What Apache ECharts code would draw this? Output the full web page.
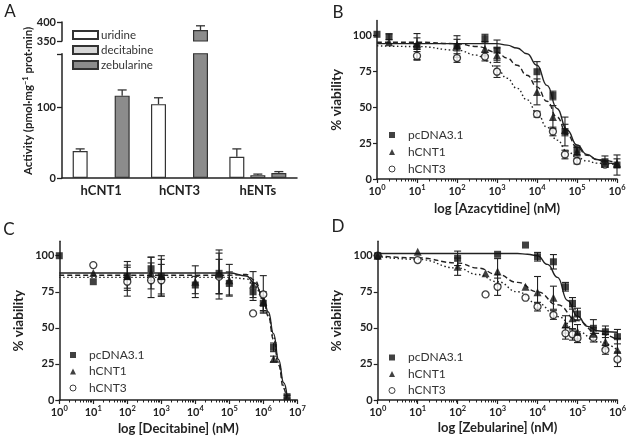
<!DOCTYPE html>
<html><head><meta charset="utf-8">
<script src="https://cdn.jsdelivr.net/npm/echarts@6/dist/echarts.min.js"></script>
<style>html,body{margin:0;padding:0;background:#fff}#c{width:629px;height:442px}</style>
</head><body><div id="c"></div>
<script>
// ---------- Panel A ----------
const aCategories = ['hCNT1', 'hCNT3', 'hENTs'];
const aUridine = [38, 104, 30];
const aUridineErr = [3, 9, 11];
const aDecitabine = [null, null, 4];
const aDecitabineErr = [null, null, 1.5];
const aZebularine = [116, 379, 7];
const aZebularineErr = [8, 11, 2];
const aLowerTicks = [0, 100, 175];
const aUpperTicks = [350, 400];

// ---------- Panel B (Azacytidine) ----------
const bConc = [1, 2, 10, 100, 500, 1000, 10000, 25000, 50000, 100000, 500000, 1000000];
const bPcdna = [100.5, 98.8, 92, 92, 97.5, 89.5, 74.5, 58, 33, 20, 12, 9.7];
const bPcdnaErr = [0, 2, 9, 7.5, 3, 7, 7, 3, 10, 3, 4, 7];
const bHcnt1 = [null, 95, 94, 93, 90.5, 86, 60.5, 43, 34, 19, 11, 11];
const bHcnt1Err = [0, 0, 4, 4, 5, 5, 9, 8, 4, 3, 2, 3];
const bHcnt3 = [null, null, 85.5, 84, 85, 74.5, 45, 33, 17, 12.5, 10, null];
const bHcnt3Err = [0, 0, 3, 3, 3, 4, 2, 3, 3, 2, 2, 0];
const bCurvePcdna = [[1, 94], [10, 94], [100, 94], [1000, 94], [1778, 93], [3162, 91], [5623, 87], [10000, 79], [17783, 65], [31623, 49], [56234, 34], [100000, 23.6], [177828, 17], [316228, 13.5], [562341, 11], [1000000, 10]];
const bCurveHcnt1 = [[1, 95], [10, 95], [100, 94], [316, 92], [1000, 88], [1778, 84], [3162, 79], [5623, 72], [10000, 64], [17783, 54], [31623, 43], [56234, 31], [100000, 22], [177828, 16.5], [316228, 13.5], [1000000, 11]];
const bCurveHcnt3 = [[1, 92.5], [10, 92], [100, 89.5], [316, 86], [562, 82], [1000, 76.5], [1778, 70], [3162, 63], [5623, 55], [10000, 46], [17783, 36], [31623, 27], [56234, 19.5], [100000, 15], [177828, 12.5], [316228, 11], [1000000, 10]];

// ---------- Panel C (Decitabine) ----------
const cConc = [1, 10, 100, 500, 1000, 10000, 50000, 100000, 500000, 1000000, 2000000, 5000000];
const cPcdna = [100, 82, 85.5, 91, 85.5, 79.7, 87.8, 80.8, 75, 67, 36.5, 2.3];
const cPcdnaErr = [0, 0, 8, 8, 12, 6, 14, 8, 6, 5, 3, 1];
const cHcnt1 = [null, 88, 86, 88, 86, 82, 87, 83, 80, 68, 28.4, null];
const cHcnt1Err = [0, 0, 10, 11, 14, 11, 17, 11, 9, 7, 2, 0];
const cHcnt3 = [null, 93.5, 82, 83, 83, null, 85.5, null, 60, 73.2, null, null];
const cHcnt3Err = [0, 0, 10, 12, 11, 0, 12, 0, 0, 13, 0, 0];
const cCurvePcdna = [[1, 88], [100000, 88], [316228, 86], [562341, 81], [1000000, 71], [1412538, 61], [1995262, 46], [2818383, 28], [3981072, 12], [5011872, 2.5]];
const cCurveHcnt1 = [[1, 86.5], [100000, 86.5], [316228, 87], [562341, 83], [1000000, 70], [1412538, 58], [1995262, 42], [2818383, 24], [3981072, 8], [4786301, 1]];
const cCurveHcnt3 = [[1, 85], [100000, 85], [316228, 84], [562341, 79], [1000000, 69.5], [1412538, 59], [1995262, 44], [2818383, 26], [3981072, 10], [5011872, 1]];

// ---------- Panel D (Zebularine) ----------
const dConc = [1, 10, 100, 500, 1000, 5000, 10000, 25000, 50000, 75000, 100000, 250000, 500000, 1000000];
const dPcdna = [100, null, 98.2, null, 101, 107.4, 99.3, 95.8, 78.5, 67, 59.6, 49.7, 47.3, 43.9];
const dPcdnaErr = [0, 0, 5, 0, 0, 0, 3, 5, 3, 4, 4, 6, 4, 5];
const dHcnt1 = [100, 102.8, 92.4, 87.8, 89, 78.5, 74.6, 70.9, 52.4, 56.6, 47.3, 46, 40.4, 34.7];
const dHcnt1Err = [0, 0, 6, 0, 9, 0, 11, 8, 6, 8, 5, 4, 5, 8];
const dHcnt3 = [100, 97, null, 73.2, 78.5, 70.9, 64.7, 58.9, 46.2, 45.5, 42.8, 43.2, 34.7, 28.2];
const dHcnt3Err = [0, 0, 0, 0, 6, 0, 3, 3, 4, 4, 3, 3, 3, 5];
const dCurvePcdna = [[1, 101.5], [1000, 101.5], [3162, 101.5], [5623, 101], [10000, 100], [17783, 94], [31623, 85], [56234, 69], [100000, 58], [177828, 51], [316228, 48], [562341, 47.3], [1000000, 47]];
const dCurveHcnt1 = [[1, 100], [10, 98.5], [100, 95], [316, 91.5], [1000, 87], [3162, 81.5], [10000, 75], [31623, 66], [100000, 55], [316228, 46.2], [1000000, 41.5]];
const dCurveHcnt3 = [[1, 99.5], [10, 97.5], [100, 91.5], [316, 87], [1000, 82], [3162, 75], [10000, 67], [31623, 57.8], [100000, 47.5], [316228, 40.4], [1000000, 34.7]];

const viabilityTicks = [0, 25, 50, 75, 100];
const groupNames = ['pcDNA3.1', 'hCNT1', 'hCNT3'];

// ---------- styling ----------
const FONT = 'Lato, "Liberation Sans", sans-serif';
const INK = '#222';
const axisLine = { show: true, onZero: false, lineStyle: { color: INK, width: 1.5 } };

const chart = echarts.init(document.getElementById('c'), null, { renderer: 'canvas' });

function errItem(params, api) {
  const x = api.value(0), y = api.value(1), e = api.value(2);
  const hi = api.coord([x, y + e]), lo = api.coord([x, y - e]);
  const w = 3.5, st = { stroke: INK, lineWidth: 1.1 };
  return { type: 'group', children: [
    { type: 'line', shape: { x1: hi[0], y1: hi[1], x2: lo[0], y2: lo[1] }, style: st },
    { type: 'line', shape: { x1: hi[0] - w, y1: hi[1], x2: hi[0] + w, y2: hi[1] }, style: st },
    { type: 'line', shape: { x1: lo[0] - w, y1: lo[1], x2: lo[0] + w, y2: lo[1] }, style: st }
  ]};
}
function barErrItem(params, api) {
  const c = api.value(0), y = api.value(1), e = api.value(2), off = api.value(3);
  const p = api.coord([c, y]), t = api.coord([c, y + e]);
  const x = p[0] + off, w = 4.5, st = { stroke: '#333', lineWidth: 1.3 };
  return { type: 'group', children: [
    { type: 'line', shape: { x1: x, y1: p[1], x2: x, y2: t[1] }, style: st },
    { type: 'line', shape: { x1: x - w, y1: t[1], x2: x + w, y2: t[1] }, style: st }
  ]};
}

function logXAxis(g, max, name, nameGap) {
  return { type: 'log', logBase: 10, gridIndex: g, min: 1, max: max, splitNumber: Math.round(Math.log10(max)),
    axisLine: axisLine,
    axisTick: { show: true, length: 4, lineStyle: { color: INK, width: 1.2 } },
    minorTick: { show: true, splitNumber: 9, length: 2.5, lineStyle: { color: INK, width: 1 } },
    minorSplitLine: { show: false }, splitLine: { show: false },
    axisLabel: { margin: 5, color: INK, fontFamily: FONT,
      formatter: v => '{b|10}{s|' + Math.round(Math.log10(v)) + '}',
      rich: { b: { fontSize: 11, fontWeight: 'bold', fontFamily: FONT, color: INK, lineHeight: 15 },
              s: { fontSize: 7.5, fontWeight: 'bold', fontFamily: FONT, color: INK, verticalAlign: 'top', lineHeight: 8 } } },
    name: name, nameLocation: 'middle', nameGap: nameGap,
    nameTextStyle: { fontSize: 13, fontWeight: 'bold', color: INK, fontFamily: FONT } };
}
function viabAxis(g, nameGap) {
  return { type: 'value', gridIndex: g, min: 0, max: 110, interval: 25,
    axisLine: axisLine,
    axisTick: { show: true, length: 4, customValues: viabilityTicks, lineStyle: { color: INK, width: 1.2 } },
    axisLabel: { customValues: viabilityTicks, fontSize: 11, fontWeight: 'bold', color: INK, fontFamily: FONT, margin: 5 },
    splitLine: { show: false },
    name: '% viability', nameLocation: 'middle', nameGap: nameGap, nameRotate: 90,
    nameTextStyle: { fontSize: 13.5, fontWeight: 'bold', color: INK, fontFamily: FONT } };
}

function panelSeries(g, conc, groups, curves) {
  const s = [];
  const dashes = ['solid', [5, 3], [1.5, 2.5]];
  curves.forEach((c, i) => s.push({ type: 'line', xAxisIndex: g, yAxisIndex: g, data: c,
    showSymbol: false, symbol: 'none', smooth: 0.5, smoothMonotone: 'x', silent: true, z: 2,
    lineStyle: { color: INK, width: 1.4, type: dashes[i] } }));
  const errData = [];
  groups.forEach(gr => conc.forEach((x, i) => {
    if (gr.v[i] != null && gr.e[i]) errData.push([x, gr.v[i], gr.e[i]]);
  }));
  s.push({ type: 'custom', xAxisIndex: g, yAxisIndex: g, renderItem: errItem, data: errData,
    encode: { x: 0, y: 1 }, z: 3, silent: true });
  const syms = [
    { symbol: 'rect', symbolSize: 7, itemStyle: { color: '#111' } },
    { symbol: 'triangle', symbolSize: 8, itemStyle: { color: '#111' } },
    { symbol: 'circle', symbolSize: 7, itemStyle: { color: '#fff', borderColor: '#111', borderWidth: 1.3 } }
  ];
  groups.forEach((gr, k) => {
    const data = [];
    conc.forEach((x, i) => { if (gr.v[i] != null) data.push([x, gr.v[i]]); });
    s.push(Object.assign({ type: 'scatter', name: groupNames[k], xAxisIndex: g, yAxisIndex: g,
      data: data, z: 6 - k }, syms[k]));
  });
  return s;
}

// ---------- A series ----------
const barColors = ['#ffffff', '#d6d6d6', '#8c8c8c'];
const barNames = ['uridine', 'decitabine', 'zebularine'];
const barVals = [aUridine, aDecitabine, aZebularine];
const barErrs = [aUridineErr, aDecitabineErr, aZebularineErr];
const barOffsets = [-21, 0, 21];
const aSeries = [];
[0, 1].forEach(g => {
  barVals.forEach((vals, k) => {
    aSeries.push({ type: 'bar', name: barNames[k], xAxisIndex: g, yAxisIndex: g,
      data: vals.map(v => v == null ? '-' : v), barWidth: 15, barGap: '40%', clip: true,
      itemStyle: { color: barColors[k], borderColor: '#333', borderWidth: 1.2 }, z: 3 });
  });
  const errData = [];
  barVals.forEach((vals, k) => vals.forEach((v, i) => {
    if (v == null) return;
    const inLower = v + barErrs[k][i] <= 175;
    if ((g === 0 && inLower) || (g === 1 && v >= 350)) errData.push([i, v, barErrs[k][i], barOffsets[k]]);
  }));
  aSeries.push({ type: 'custom', xAxisIndex: g, yAxisIndex: g, renderItem: barErrItem, data: errData,
    encode: { x: 0, y: 1 }, z: 2, silent: true });
});

const legendText = { fontSize: 12, color: '#333', fontFamily: FONT, lineHeight: 14, padding: [0, 0, 0, 8] };
const groupLegendData = [
  { name: 'pcDNA3.1', icon: 'rect', itemStyle: { color: '#111', borderWidth: 0 } },
  { name: 'hCNT1', icon: 'triangle', itemStyle: { color: '#111', borderWidth: 0 } },
  { name: 'hCNT3', icon: 'circle', itemStyle: { color: '#fff', borderColor: '#111', borderWidth: 1 } }
];
const option = {
  animation: false,
  backgroundColor: '#fff',
  textStyle: { fontFamily: FONT },
  grid: [
    { left: 62, top: 53.75, width: 235, height: 124.25 },   // A lower
    { left: 62, top: 22, width: 235, height: 19 },          // A upper
    { left: 377, top: 20.6, width: 240, height: 158.4 },    // B
    { left: 59.3, top: 241.3, width: 238, height: 158.7 },  // C
    { left: 377.7, top: 241.3, width: 240.6, height: 158.7 } // D
  ],
  xAxis: [
    { type: 'category', gridIndex: 0, data: aCategories, axisLine: axisLine, axisTick: { show: false },
      axisLabel: { fontSize: 13, fontWeight: 'bold', color: INK, fontFamily: FONT, margin: 6 } },
    { type: 'category', gridIndex: 1, data: aCategories, show: false },
    logXAxis(2, 1e6, 'log [Azacytidine] (nM)', 23),
    logXAxis(3, 1e7, 'log [Decitabine] (nM)', 22),
    logXAxis(4, 1e6, 'log [Zebularine] (nM)', 21.5)
  ],
  yAxis: [
    { type: 'value', gridIndex: 0, min: 0, max: 175, interval: 100, axisLine: axisLine,
      axisTick: { show: true, length: 5, customValues: aLowerTicks, lineStyle: { color: INK, width: 1.3 } },
      axisLabel: { customValues: [0, 100], fontSize: 11, fontWeight: 'bold', color: INK, fontFamily: FONT, margin: 6 },
      splitLine: { show: false } },
    { type: 'value', gridIndex: 1, min: 350, max: 400, interval: 50, axisLine: axisLine,
      axisTick: { show: true, length: 5, customValues: aUpperTicks, lineStyle: { color: INK, width: 1.3 } },
      axisLabel: { customValues: aUpperTicks, fontSize: 11, fontWeight: 'bold', color: INK, fontFamily: FONT, margin: 6 },
      splitLine: { show: false } },
    viabAxis(2, 33),
    viabAxis(3, 34),
    viabAxis(4, 34)
  ],
  legend: [
    { orient: 'vertical', left: 67, top: 24, itemWidth: 25, itemHeight: 8, itemGap: 3, icon: 'rect',
      data: barNames, selectedMode: false,
      textStyle: { fontSize: 11.5, color: '#333', fontFamily: FONT, lineHeight: 11.5, padding: [0, 0, 0, -2] } },
    { orient: 'vertical', left: 383.5, top: 123, itemWidth: 6, itemHeight: 6, itemGap: 3,
      data: groupLegendData, selectedMode: false, textStyle: legendText },
    { orient: 'vertical', left: 64.5, top: 343, itemWidth: 6, itemHeight: 6, itemGap: 2.5,
      data: groupLegendData, selectedMode: false, textStyle: legendText },
    { orient: 'vertical', left: 383.5, top: 345.5, itemWidth: 6, itemHeight: 6, itemGap: 2.5,
      data: groupLegendData, selectedMode: false, textStyle: legendText }
  ],
  graphic: [
    { type: 'text', x: 10, y: 12, style: { text: 'A', fontSize: 17, fontFamily: FONT, fill: INK, align: 'center', verticalAlign: 'middle' } },
    { type: 'text', x: 338, y: 13, style: { text: 'B', fontSize: 17, fontFamily: FONT, fill: INK, align: 'center', verticalAlign: 'middle' } },
    { type: 'text', x: 9, y: 230, style: { text: 'C', fontSize: 17, fontFamily: FONT, fill: INK, align: 'center', verticalAlign: 'middle' } },
    { type: 'text', x: 338, y: 227, style: { text: 'D', fontSize: 17, fontFamily: FONT, fill: INK, align: 'center', verticalAlign: 'middle' } },
    { type: 'text', x: 28, y: 101, rotation: Math.PI / 2,
      style: { text: 'Activity (pmol·mg{s|−1} prot·min)', fontSize: 11.5, fontWeight: 'bold', fontFamily: FONT, fill: INK,
        align: 'center', verticalAlign: 'middle',
        rich: { s: { fontSize: 7.5, fontWeight: 'bold', fontFamily: FONT, fill: INK, verticalAlign: 'top', lineHeight: 8 } } } }
  ],
  series: aSeries.concat(
    panelSeries(2, bConc, [{ v: bPcdna, e: bPcdnaErr }, { v: bHcnt1, e: bHcnt1Err }, { v: bHcnt3, e: bHcnt3Err }],
      [bCurvePcdna, bCurveHcnt1, bCurveHcnt3]),
    panelSeries(3, cConc, [{ v: cPcdna, e: cPcdnaErr }, { v: cHcnt1, e: cHcnt1Err }, { v: cHcnt3, e: cHcnt3Err }],
      [cCurvePcdna, cCurveHcnt1, cCurveHcnt3]),
    panelSeries(4, dConc, [{ v: dPcdna, e: dPcdnaErr }, { v: dHcnt1, e: dHcnt1Err }, { v: dHcnt3, e: dHcnt3Err }],
      [dCurvePcdna, dCurveHcnt1, dCurveHcnt3])
  )
};
chart.setOption(option);
</script></body></html>
